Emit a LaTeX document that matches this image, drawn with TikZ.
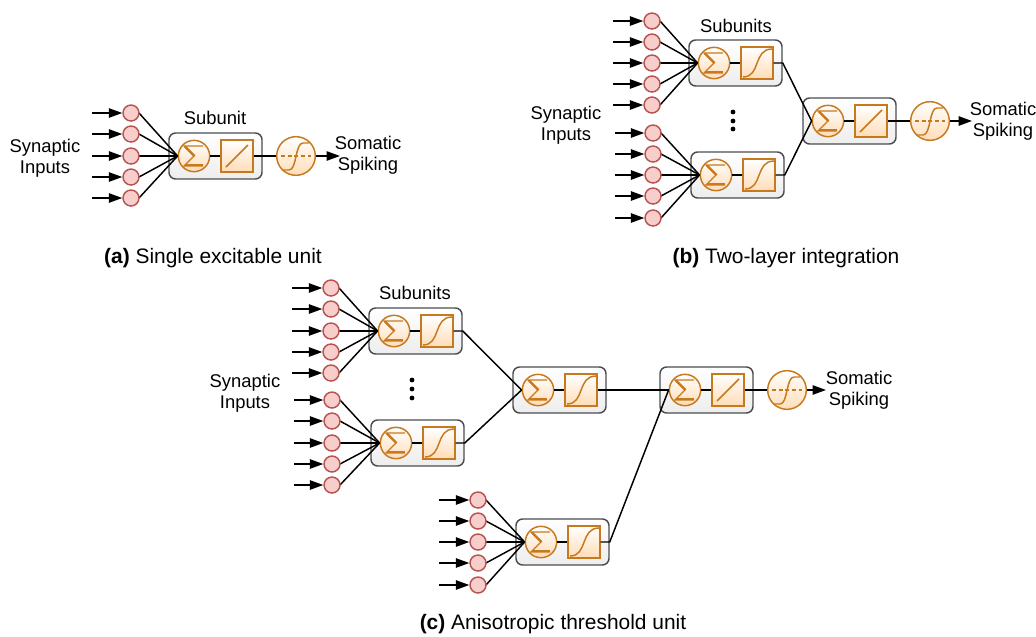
\documentclass[tikz,border=0pt]{standalone}
\usepackage{fontspec}
\setmainfont{Liberation Sans}
\usetikzlibrary{arrows.meta}
\definecolor{orng}{HTML}{C8791E}
\definecolor{orngfill}{HTML}{FFDDB8}
\definecolor{boxline}{HTML}{4A4D52}
\definecolor{boxfill}{HTML}{EDEDED}
\definecolor{syn}{HTML}{F8CECC}
\definecolor{synline}{HTML}{B85450}
\tikzset{
  x=0.75pt,y=-0.75pt,
  wire/.style={draw=black,line width=1.1pt},
  inarrow/.style={wire,-{Triangle[length=10pt,width=7pt]}},
  unitbox/.style={draw=boxline,line width=1.1pt,rounded corners=5pt,top color=white,bottom color=boxfill,minimum width=69.75pt,minimum height=34.5pt,inner sep=0pt},
  sumnode/.style={circle,draw=orng,line width=1.1pt,top color=white,bottom color=orngfill,minimum size=23.5pt,inner sep=0pt},
  funcnode/.style={rectangle,draw=orng,line width=1.3pt,top color=white,bottom color=orngfill,minimum size=23.5pt,inner sep=0pt},
  somanode/.style={circle,draw=orng,line width=1.1pt,top color=white,bottom color=orngfill,minimum size=29pt,inner sep=0pt},
  synnode/.style={circle,draw=synline,line width=1.1pt,fill=syn,minimum size=12pt,inner sep=0pt},
  glyph/.style={draw=orng,line width=0.9pt},
  label/.style={font=\fontsize{13.8pt}{16pt}\selectfont,inner sep=0pt,align=center},
  captionlabel/.style={font=\fontsize{15.7pt}{18pt}\selectfont,inner sep=0pt,align=center},
  dotnode/.style={circle,fill=black,minimum size=3.6pt,inner sep=0pt},
}
% #1 name, #2 x, #3 y of the summing circle, #4 0 = linear, 1 = sigmoid
\newcommand{\subunit}[4]{%
  \node[unitbox] (#1b) at (#2+21.5,#3) {};
  \node[sumnode] (#1s) at (#2,#3) {};
  \node[funcnode] (#1q) at (#2+43,#3) {};
  \draw[wire] (#1s) -- (#1q);
  \begin{scope}[shift={(#2,#3)}]
    \draw[glyph,line join=miter] (9,-10) -- (-10,-10) -- (0,0) -- (-10,10) -- (9,10);
    \draw[glyph,line width=1.7pt] (-9,-9.5) -- (0.5,0);
    \draw[glyph,line width=1.4pt] (-8,9) -- (9,9);
    \ifnum#4=0
      \draw[glyph,line width=1.1pt] (43-11,11) -- (43+11,-11);
    \else
      \draw[glyph,line width=1.1pt] (43-14,14) .. controls (43+4,14) and (43-4,-14) .. (43+15,-14);
    \fi
  \end{scope}
}
% #1 name, #2 x, #3 y
\newcommand{\somaunit}[3]{%
  \node[somanode] (#1) at (#2,#3) {};
  \begin{scope}[shift={(#2,#3)}]
    \draw[glyph,line width=1.1pt,dash pattern=on 3pt off 2pt] (-15,0) -- (15,0);
    \draw[glyph,line width=1.1pt] (-13,14) -- (-7,14) .. controls (1,14) and (-1,-13) .. (7,-13) -- (13,-13);
  \end{scope}
}
% #1 name, #2 x of circles, #3 arrow start x, #4 target node, #5 list i/y
\newcommand{\inputrow}[5]{%
  \foreach \i/\yy in {#5} {
    \coordinate (#1a\i) at (#3,\yy);
    \draw[wire] (#2+8,\yy) -- (#4.west);
    \node[synnode] (#1\i) at (#2,\yy) {};
    \draw[inarrow] (#1a\i) -- (#1\i);
  }
}
\begin{document}
\begin{tikzpicture}
\useasboundingbox (0,0) rectangle (1036,636);
% ---------- (a)
\subunit{A}{194}{156}{0}
\inputrow{Ai}{131}{92}{As}{1/113,2/134,3/156,4/177,5/198}
\somaunit{Asoma}{296}{156}
\draw[wire] (Aq) -- (Asoma);
\coordinate (Aout) at (340,156);
\draw[inarrow] (Asoma) -- (Aout);
\node[label] (Asyn) at (45,158) {Synaptic\\Inputs};
\node[label] (Asub) at (215,118) {Subunit};
\node[label] (Asom) at (368,155) {Somatic\\Spiking};
\node[captionlabel] (Acap) at (213,258) {\textbf{(a)} Single excitable unit};
% ---------- (b)
\subunit{Ba}{714}{63}{1}
\subunit{Bb}{716}{175}{1}
\subunit{Bc}{828}{121}{0}
\inputrow{Bi}{652}{613}{Bas}{1/21,2/42,3/63,4/84,5/105}
\inputrow{Bj}{653}{615}{Bbs}{1/133,2/154,3/175,4/196,5/218}
\somaunit{Bsoma}{930}{121}
\draw[wire] (Baq) -- (Bab.east) -- (Bcs.west);
\draw[wire] (Bbq) -- (Bbb.east) -- (Bcs.west);
\draw[wire] (Bcq) -- (Bsoma);
\coordinate (Bout) at (972,121);
\draw[inarrow] (Bsoma) -- (Bout);
\node[dotnode] (Bd1) at (733,112) {};
\node[dotnode] (Bd2) at (733,121) {};
\node[dotnode] (Bd3) at (733,129) {};
\node[label] (Bsyn) at (566,125) {Synaptic\\Inputs};
\node[label] (Bsub) at (736,26) {Subunits};
\node[label] (Bsom) at (1003,121) {Somatic\\Spiking};
\node[captionlabel] (Bcap) at (786,258) {\textbf{(b)} Two-layer integration};
% ---------- (c)
\subunit{Ca}{394}{331}{1}
\subunit{Cb}{396}{443}{1}
\subunit{Cc}{538}{390}{1}
\subunit{Cd}{685}{390}{0}
\subunit{Ce}{541}{542}{1}
\inputrow{Ci}{331}{292}{Cas}{1/288,2/309,3/331,4/352,5/373}
\inputrow{Cj}{332}{294}{Cbs}{1/400,2/421,3/443,4/464,5/485}
\inputrow{Ck}{478}{439}{Ces}{1/500,2/521,3/542,4/563,5/585}
\somaunit{Csoma}{787}{390}
\draw[wire] (Caq) -- (Cab.east) -- (Ccs.west);
\draw[wire] (Cbq) -- (Cbb.east) -- (Ccs.west);
\draw[wire] (Ccq) -- (Cds.west);
\draw[wire] (Ceq) -- (Ceb.east) -- (Cds.west);
\draw[wire] (Cdq) -- (Csoma);
\coordinate (Cout) at (826,390);
\draw[inarrow] (Csoma) -- (Cout);
\node[dotnode] (Cd1) at (412,380) {};
\node[dotnode] (Cd2) at (412,389) {};
\node[dotnode] (Cd3) at (412,398) {};
\node[label] (Csyn) at (245,393) {Synaptic\\Inputs};
\node[label] (Csub) at (415,293) {Subunits};
\node[label] (Csom) at (859,390) {Somatic\\Spiking};
\node[captionlabel] (Ccap) at (553,624) {\textbf{(c)} Anisotropic threshold unit};
\end{tikzpicture}
\end{document}
